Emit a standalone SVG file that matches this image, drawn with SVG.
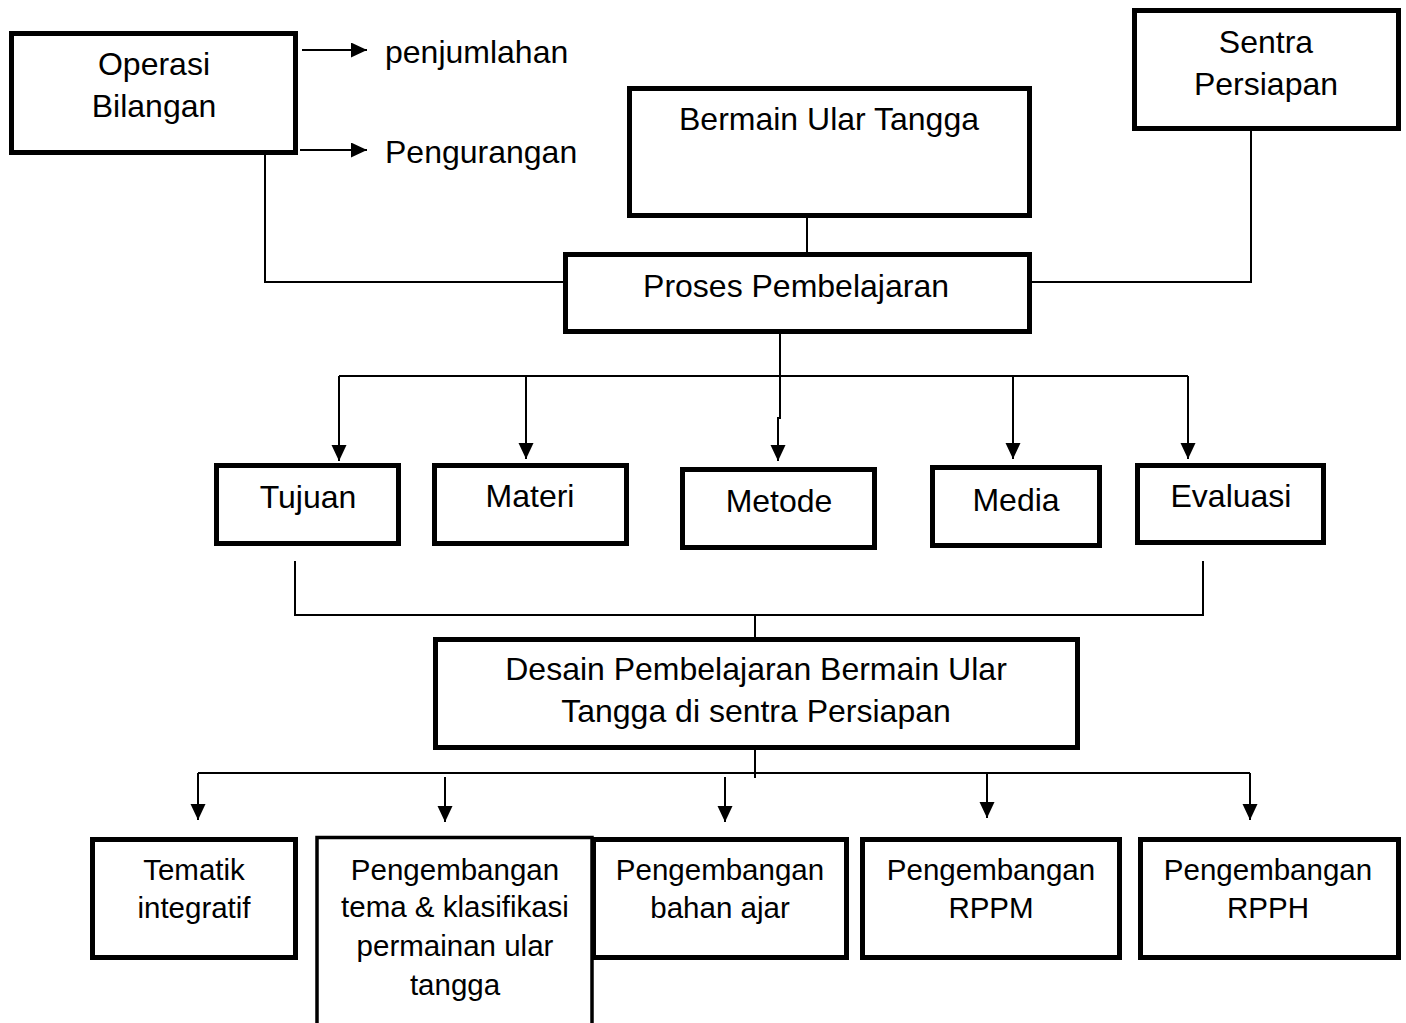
<svg xmlns="http://www.w3.org/2000/svg" width="1406" height="1023" viewBox="0 0 1406 1023">
<defs>
<style>
.box{fill:#fff;stroke:#000;stroke-width:5}
.thin{fill:#fff;stroke:#000;stroke-width:3.5}
.t{font-family:"Liberation Sans",Arial,sans-serif;font-size:32px;fill:#000;text-anchor:middle}
.s{font-family:"Liberation Sans",Arial,sans-serif;font-size:29.5px;fill:#000;text-anchor:middle}
.l{font-family:"Liberation Sans",Arial,sans-serif;font-size:32px;fill:#000}
.c{fill:none;stroke:#000;stroke-width:2}
.a{fill:none;stroke:#000;stroke-width:2;marker-end:url(#ah)}
</style>
<marker id="ah" markerUnits="userSpaceOnUse" markerWidth="16" markerHeight="16" refX="16" refY="7.5" orient="auto">
<path d="M0,0 L16,7.5 L0,15 z" fill="#000"/>
</marker>
</defs>
<rect width="1406" height="1023" fill="#fff"/>
<g id="connectors">
<path class="a" d="M302,50 H367"/>
<path class="a" d="M300,150 H367"/>
<path class="c" d="M265,155 V282 H565"/>
<path class="c" d="M807,218 V254"/>
<path class="c" d="M1251,131 V282 H1030"/>
<path class="a" d="M780,326 V418 H778 V461"/>
<path class="c" d="M339,376 H1188"/>
<path class="a" d="M339,376 V461"/>
<path class="a" d="M526,376 V459"/>
<path class="a" d="M1013,376 V459"/>
<path class="a" d="M1188,376 V459"/>
<path class="c" d="M295,561 V615 H1203 V561"/>
<path class="c" d="M755,615 V639"/>
<path class="c" d="M755,733 V778"/>
<path class="c" d="M198,773 H1250"/>
<path class="a" d="M198,773 V820"/>
<path class="a" d="M445,777 V822"/>
<path class="a" d="M725,777 V822"/>
<path class="a" d="M987,773 V818"/>
<path class="a" d="M1250,773 V820"/>
</g>
<g id="operasi"><rect class="box" x="11.5" y="33.5" width="284" height="119"/><text class="t" x="154" y="75">Operasi</text><text class="t" x="154" y="117">Bilangan</text></g>
<g id="penjumlahan"><text class="l" x="385" y="63">penjumlahan</text></g>
<g id="pengurangan"><text class="l" x="385" y="163">Pengurangan</text></g>
<g id="bermain"><rect class="box" x="629.5" y="88.5" width="400" height="127"/><text class="t" x="829" y="130">Bermain Ular Tangga</text></g>
<g id="sentra"><rect class="box" x="1134.5" y="10.5" width="264" height="118"/><text class="t" x="1266" y="53">Sentra</text><text class="t" x="1266" y="95">Persiapan</text></g>
<g id="proses"><rect class="box" x="565.5" y="254.5" width="464" height="77"/><text class="t" x="796" y="297">Proses Pembelajaran</text></g>
<g id="tujuan"><rect class="box" x="216.5" y="465.5" width="182" height="78"/><text class="t" x="308" y="508">Tujuan</text></g>
<g id="materi"><rect class="box" x="434.5" y="465.5" width="192" height="78"/><text class="t" x="530" y="507">Materi</text></g>
<g id="metode"><rect class="box" x="682.5" y="469.5" width="192" height="78"/><text class="t" x="779" y="512">Metode</text></g>
<g id="media"><rect class="box" x="932.5" y="467.5" width="167" height="78"/><text class="t" x="1016" y="511">Media</text></g>
<g id="evaluasi"><rect class="box" x="1137.5" y="465.5" width="186" height="77"/><text class="t" x="1231" y="507">Evaluasi</text></g>
<g id="desain"><rect class="box" x="435.5" y="639.5" width="642" height="108"/><text class="t" x="756" y="680">Desain Pembelajaran Bermain Ular</text><text class="t" x="756" y="722">Tangga di sentra Persiapan</text></g>
<g id="tematik"><rect class="box" x="92.5" y="839.5" width="203" height="118"/><text class="s" x="194" y="880">Tematik</text><text class="s" x="194" y="918">integratif</text></g>
<g id="tema"><rect class="thin" x="317" y="837.5" width="275" height="200"/><text class="s" x="455" y="880">Pengembangan</text><text class="s" x="455" y="917">tema &amp; klasifikasi</text><text class="s" x="455" y="956">permainan ular</text><text class="s" x="455" y="995">tangga</text></g>
<g id="bahan"><rect class="box" x="593.5" y="839.5" width="253" height="118"/><text class="s" x="720" y="880">Pengembangan</text><text class="s" x="720" y="918">bahan ajar</text></g>
<g id="rppm"><rect class="box" x="862.5" y="839.5" width="257" height="118"/><text class="s" x="991" y="880">Pengembangan</text><text class="s" x="991" y="918">RPPM</text></g>
<g id="rpph"><rect class="box" x="1140.5" y="839.5" width="258" height="118"/><text class="s" x="1268" y="880">Pengembangan</text><text class="s" x="1268" y="918">RPPH</text></g>
</svg>
